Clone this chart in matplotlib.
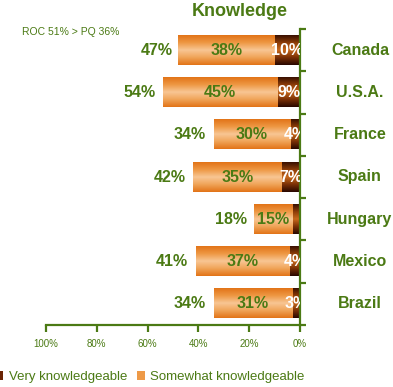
import numpy as np
import matplotlib
matplotlib.use('Agg')
import matplotlib.pyplot as plt
from matplotlib.colors import LinearSegmentedColormap
from matplotlib.patches import Patch
import matplotlib.transforms as mtransforms

# ─── data ────────────────────────────────────────────────────────
countries = ['Canada', 'U.S.A.', 'France', 'Spain', 'Hungary', 'Mexico', 'Brazil']
very      = [10, 9, 4, 7, 3, 4, 3]
somewhat  = [38, 45, 30, 35, 15, 37, 31]
totals    = [47, 54, 34, 42, 18, 41, 34]
very_lbl  = ['10%', '9%', '4%', '7%', '', '4%', '3%']
xticks    = [100, 80, 60, 40, 20, 0]

GREEN = '#4B7A14'
plt.rcParams['font.family'] = ['Liberation Sans', 'DejaVu Sans']

orange_cm = LinearSegmentedColormap.from_list(
    'org', ['#E27418', '#EE9844', '#F8C694', '#F0A458', '#E27418'])
dark_cm = LinearSegmentedColormap.from_list(
    'drk', ['#3A1000', '#8C3C08', '#C8691C', '#7A3006', '#2A0800'])
grad = np.linspace(0, 1, 64).reshape(-1, 1)

fig = plt.figure(figsize=(3.93, 3.87), dpi=100)
ax = fig.add_axes([46/393, 62/387, 254/393, 296/387])

n = len(countries)
ypos = np.arange(n)[::-1]          # Canada on top
h = 0.69

for y, v, s, t, vl in zip(ypos, very, somewhat, totals, very_lbl):
    # gradient bars
    ax.imshow(grad, extent=(0, v, y - h/2, y + h/2), origin='upper',
              cmap=dark_cm, aspect='auto', zorder=2)
    ax.imshow(grad, extent=(v, v + s, y - h/2, y + h/2), origin='upper',
              cmap=orange_cm, aspect='auto', zorder=2)
    ax.text(v + s / 2, y, f'{s}%', ha='center', va='center',
            color=GREEN, fontsize=11.5, fontweight='bold', zorder=3)
    if vl:
        ax.text(v / 2, y, vl, ha='center', va='center', color='white',
                fontsize=11.5, fontweight='bold', zorder=3, clip_on=True)
    ax.text(t + 3, y, f'{t}%', ha='right', va='center',
            color=GREEN, fontsize=11.5, fontweight='bold')

ax.set_xlim(100, 0)
ax.set_ylim(-0.5, n - 0.5)

# country names right of the axis
trans = mtransforms.blended_transform_factory(ax.transAxes, ax.transData)
for y, c in zip(ypos, countries):
    ax.text(1.236, y, c, transform=trans, ha='center', va='center',
            color=GREEN, fontsize=11.5, fontweight='bold', clip_on=False)

# axes styling
for side in ['left', 'top']:
    ax.spines[side].set_visible(False)
for side in ['right', 'bottom']:
    ax.spines[side].set_color(GREEN)
    ax.spines[side].set_linewidth(1.6)
ax.set_xticks(xticks)
ax.set_xticklabels([f'{x}%' for x in xticks])
ax.set_yticks(np.arange(-0.5, n, 1.0))
ax.set_yticklabels([])
ax.yaxis.set_ticks_position('right')
ax.tick_params(axis='x', colors=GREEN, direction='out', length=5, width=1.6,
               labelsize=7, pad=5)
ax.tick_params(axis='y', colors=GREEN, direction='out', length=4, width=1.6)
ax.set_facecolor('none')

# titles
fig.text(240/393, 1 - 12/387, 'Knowledge', ha='center', va='center',
         color=GREEN, fontsize=13, fontweight='bold')
fig.text(22/393, 1 - 32/387, 'ROC 51% > PQ 36%', ha='left', va='center',
         color=GREEN, fontsize=7.5)

# legend
handles = [Patch(facecolor='#6A2404', edgecolor='none'),
           Patch(facecolor='#EE9A48', edgecolor='none')]
leg = fig.legend(handles, ['Very knowledgeable', 'Somewhat knowledgeable'],
                 loc='center left', bbox_to_anchor=(-0.012, 1 - 377/387),
                 ncol=2, frameon=False, fontsize=9.5, handlelength=0.62,
                 handleheight=0.6, handletextpad=0.42, columnspacing=0.7,
                 borderpad=0, borderaxespad=0)
for t in leg.get_texts():
    t.set_color(GREEN)

fig.savefig('out.png', dpi=100)
